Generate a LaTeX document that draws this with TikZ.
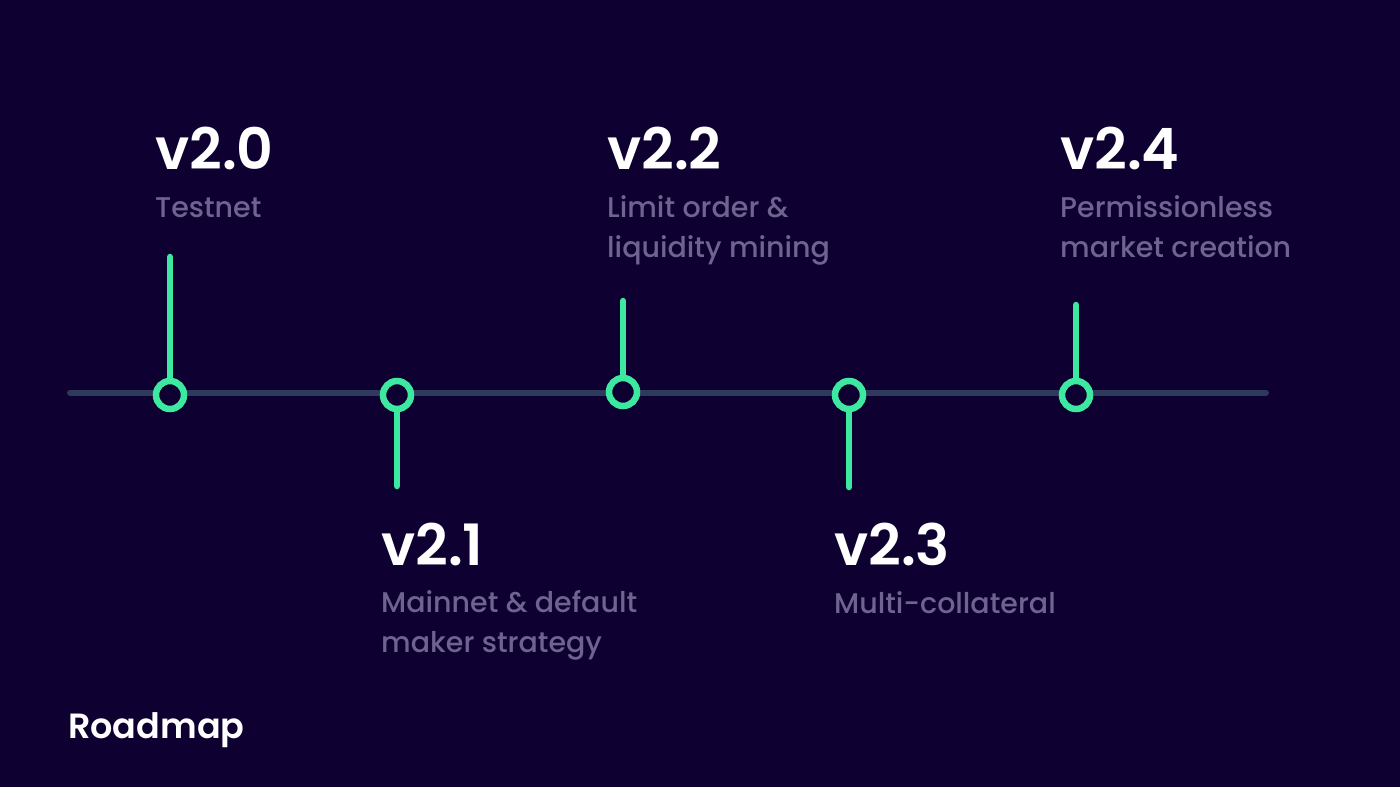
\documentclass[tikz,border=0pt]{standalone}
\usepackage{fontspec}
\setmainfont{Poppins}[UprightFont=* Medium,BoldFont=* SemiBold]
\definecolor{bgdark}{HTML}{0E0030}
\definecolor{mint}{HTML}{3DE8A0}
\definecolor{axisgrey}{HTML}{2E3A5C}
\definecolor{subgrey}{HTML}{6E6490}
\begin{document}
\begin{tikzpicture}[x=1pt,y=-1pt]
	\tikzstyle{marker}=[shape=circle,draw=mint,line width=6.5pt,fill=bgdark,minimum size=28pt,inner sep=0pt]
	\tikzstyle{stem}=[draw=mint,line width=6.5pt,line cap=round]
	\tikzstyle{version}=[anchor=base west,inner sep=0pt,text=white,font=\fontsize{57}{57}\selectfont\bfseries]
	\tikzstyle{caption}=[anchor=base west,inner sep=0pt,text=subgrey,align=left,font=\fontsize{28.5}{40}\selectfont]

	\fill[bgdark] (0,0) rectangle (1400,787);
	\useasboundingbox (0,0) rectangle (1400,787);

	%%%
	\coordinate (axisL) at (70,393);
	\coordinate (axisR) at (1266,393);
	\draw[axisgrey,line width=6pt,line cap=round] (axisL) -- (axisR);

	%%%
	\node at (170,395) [marker] (m0) {};
	\node at (397,395) [marker] (m1) {};
	\node at (623,392) [marker] (m2) {};
	\node at (849,395) [marker] (m3) {};
	\node at (1076,395) [marker] (m4) {};

	\coordinate (s0) at (170,257);
	\coordinate (s1) at (397,486);
	\coordinate (s2) at (623,301);
	\coordinate (s3) at (849,487);
	\coordinate (s4) at (1076,305);

	\draw[stem] (m0) -- (s0);
	\draw[stem] (m1) -- (s1);
	\draw[stem] (m2) -- (s2);
	\draw[stem] (m3) -- (s3);
	\draw[stem] (m4) -- (s4);

	%%% captions: base anchor sits on the last line
	\node at (155,169) [version] (v0) {v2.0};
	\node at (155,217) [caption] (c0) {Testnet};

	\node at (381,565) [version] (v1) {v2.1};
	\node at (381,652) [caption] (c1) {Mainnet \& default\\maker strategy};

	\node at (607,169) [version] (v2) {v2.2};
	\node at (607,257) [caption] (c2) {Limit order \&\\liquidity mining};

	\node at (834,565) [version] (v3) {v2.3};
	\node at (834,613) [caption] (c3) {Multi-collateral};

	\node at (1060,169) [version] (v4) {v2.4};
	\node at (1060,257) [caption] (c4) {Permissionless\\market creation};

	%%%
	\node at (68,738) [anchor=base west,inner sep=0pt,text=white,font=\fontsize{35}{35}\selectfont\bfseries] (title) {Roadmap};
\end{tikzpicture}
\end{document}
